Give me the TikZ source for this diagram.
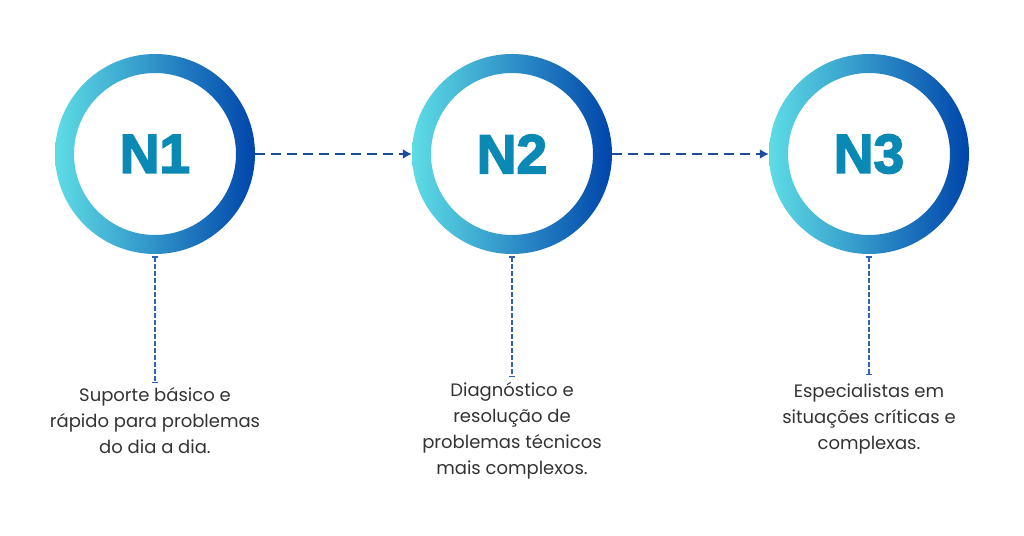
\documentclass[tikz,border=0pt]{standalone}
\usepackage{fontspec}
\setmainfont{Poppins}
\newfontfamily\nfont[BoldFeatures={FakeBold=3}]{Liberation Sans}
\usetikzlibrary{arrows.meta}
\definecolor{ringL}{HTML}{5EDDE5}
\definecolor{ringM}{HTML}{38A0D2}
\definecolor{ringR}{HTML}{0045AB}
\definecolor{ntext}{HTML}{0A89B5}
\definecolor{arrowc}{HTML}{1E4C9A}
\definecolor{vlinec}{HTML}{2F63B8}
\definecolor{bodyc}{HTML}{333333}
\tikzset{
  ringnode/.style={circle, minimum size=200pt, inner sep=0pt},
  nlabel/.style={text=ntext, font=\nfont\bfseries\fontsize{55}{55}\selectfont},
  harrow/.style={draw=arrowc, line width=2.4pt, dash pattern=on 10pt off 6pt, -{Latex[length=9pt,width=10pt]}},
  vline/.style={draw=vlinec, line width=1.4pt, dash pattern=on 5pt off 2pt, {Bar[width=6pt,line width=1.4pt]}-{Bar[width=6pt,line width=1.4pt]}},
  desc/.style={text=bodyc, align=center, inner sep=0pt, anchor=north, font=\fontsize{18}{26}\selectfont}
}
\begin{document}
\begin{tikzpicture}[x=1pt,y=-1pt]
\useasboundingbox (0,0) rectangle (1024,535);
\node[ringnode] (c1) at (155,154) {};
\node[ringnode] (c2) at (512,154) {};
\node[ringnode] (c3) at (869,154) {};
\foreach \i in {1,2,3}{
  \shade[left color=ringL, middle color=ringM, right color=ringR, even odd rule]
    (c\i.center) circle (100pt) (c\i.center) circle (81pt);
  \node[nlabel] (n\i) at (c\i.center) {N\i};
}
\draw[harrow] (c1.east) -- (c2.west);
\draw[harrow] (c2.east) -- (c3.west);
\coordinate (e1) at (155,383);
\coordinate (e2) at (512,377);
\coordinate (e3) at (869,375);
\draw[vline] ([yshift=-2pt]c1.south) -- (e1);
\draw[vline] ([yshift=-2pt]c2.south) -- (e2);
\draw[vline] ([yshift=-2pt]c3.south) -- (e3);
\node[desc] (t1) at (155,387) {Suporte básico e\\rápido para problemas\\do dia a dia.};
\node[desc] (t2) at (512,382) {Diagnóstico e\\resolução de\\problemas técnicos\\mais complexos.};
\node[desc] (t3) at (869,384) {Especialistas em\\situações críticas e\\complexas.};
\end{tikzpicture}
\end{document}
